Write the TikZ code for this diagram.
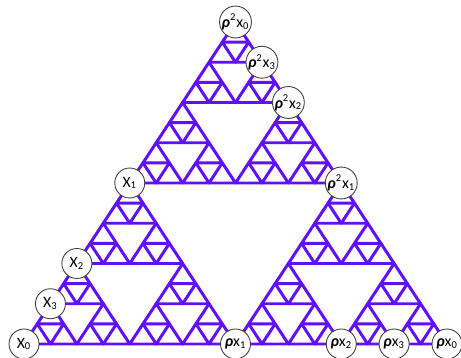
\documentclass[tikz,border=0pt]{standalone}
\usepackage{fontspec}
\setmainfont{Carlito}
\usepackage{tikz}
\usetikzlibrary{calc}
\usepackage{xcolor}
\definecolor{sierpblue}{RGB}{96,16,255}

\newcommand{\rh}{\textbf{\textit{ρ}}}

\begin{document}
\begin{tikzpicture}[x=0.02cm, y=0.02cm,
  edge/.style={draw=sierpblue, line width=1.7pt, line join=round, line cap=round},
  pt/.style={circle, draw=black!75, line width=0.5pt, fill=white, minimum size=0.6cm, inner sep=0pt, font=\small}]
  \useasboundingbox (0,0) rectangle (461,358);
  % corners of the big triangle
  \coordinate (A) at (24,14);
  \coordinate (B) at (447,14);
  \coordinate (C) at (235.5,336);
  % one sixteenth of the two sides going down from the top
  \coordinate (u) at ($1/16*(A)-1/16*(C)$);
  \coordinate (v) at ($1/16*(B)-1/16*(C)$);

  % level 4: 81 small triangles
  \foreach \a in {0,1,2}
    \foreach \b in {0,1,2}
      \foreach \c in {0,1,2}
        \foreach \d in {0,1,2} {
          \pgfmathsetmacro{\p}{8*(\a==1)+4*(\b==1)+2*(\c==1)+(\d==1)}
          \pgfmathsetmacro{\q}{8*(\a==2)+4*(\b==2)+2*(\c==2)+(\d==2)}
          \draw[edge] ($(C)+\p*(u)+\q*(v)$) -- ++(u) -- ++($(v)-(u)$) -- cycle;
        }

  \node[pt] (x0) at (A) {X\textsubscript{0}};
  \node[pt] (x1) at ($(A)!0.5!(C)$) {X\textsubscript{1}};
  \node[pt] (x2) at ($(A)!0.25!(C)$) {X\textsubscript{2}};
  \node[pt] (x3) at ($(A)!0.125!(C)$) {X\textsubscript{3}};
  \node[pt] (rx0) at (B) {\rh x\textsubscript{0}};
  \node[pt] (rx1) at ($(A)!0.5!(B)$) {\rh x\textsubscript{1}};
  \node[pt] (rx2) at ($(A)!0.75!(B)$) {\rh x\textsubscript{2}};
  \node[pt] (rx3) at ($(A)!0.875!(B)$) {\rh x\textsubscript{3}};
  \node[pt] (rrx0) at (C) {\rh\textsuperscript{2}x\textsubscript{0}};
  \node[pt] (rrx1) at ($(C)!0.5!(B)$) {\rh\textsuperscript{2}x\textsubscript{1}};
  \node[pt] (rrx2) at ($(C)!0.25!(B)$) {\rh\textsuperscript{2}x\textsubscript{2}};
  \node[pt] (rrx3) at ($(C)!0.125!(B)$) {\rh\textsuperscript{2}x\textsubscript{3}};
\end{tikzpicture}
\end{document}
